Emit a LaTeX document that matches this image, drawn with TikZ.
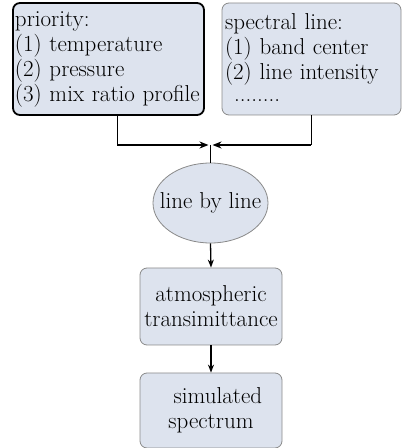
\documentclass[tikz,border=0pt]{standalone}
\usepackage{fontspec}
\usetikzlibrary{shapes.geometric,arrows.meta}
\definecolor{boxfill}{HTML}{DDE3EE}
\definecolor{edgegray}{HTML}{8A8A8A}
\begin{document}
\begin{tikzpicture}[x=1pt,y=1pt,
  every node/.style={font=\fontsize{23}{25}\selectfont},
  infobox/.style={draw=edgegray,fill=boxfill,rounded corners=7pt,line width=0.8pt,inner sep=2pt},
  keybox/.style={infobox,draw=black,line width=1.8pt},
  procbox/.style={infobox,minimum width=142pt,align=center},
  lblellipse/.style={draw=edgegray,fill=boxfill,ellipse,line width=0.8pt,minimum width=115pt,minimum height=80pt,inner sep=0pt},
  thin link/.style={line width=0.8pt},
  thick link/.style={line width=2pt,-{Stealth[length=9pt,width=7pt]}},
  flow/.style={line width=1.3pt,-{Stealth[length=8pt,width=6pt]}}]
\useasboundingbox (0,0) rectangle (402,448);
% input boxes
\node[keybox,minimum width=191pt,minimum height=112pt,text width=187pt,align=left] (prio) at (108.5,389)
  {priority:\\(1) temperature\\(2) pressure\\(3) mix ratio profile};
\node[infobox,minimum width=179pt,minimum height=112pt,text width=173pt,align=left] (spec) at (311.5,389)
  {spectral line:\\(1) band center\\(2) line intensity\\\hspace*{0.4em}\raisebox{0.3ex}{........}};
% merge point
\coordinate (join) at (210.5,303);
\coordinate (pl) at (117,303);
\coordinate (sl) at (311,303);
% processing chain
\node[lblellipse,label={center:line by line}] (lbl) at (210.5,245) {};
\node[procbox,minimum height=77pt] (atm) at (211,141.5) {atmospheric\\transimittance};
\node[procbox,minimum height=75pt] (sim) at (211,37.5) {\hspace*{0.6em}simulated\\spectrum};
% connectors
\draw[thin link] (prio.south -| pl) -- (pl);
\draw[thin link] (spec.south -| sl) -- (sl);
\draw[thick link] (pl) -- ([xshift=-2pt]join);
\draw[thick link] (sl) -- ([xshift=2pt]join);
\draw[line width=1.6pt] (join) -- (lbl.north);
\draw[flow] (lbl.south) -- (atm.north);
\draw[flow] (atm.south) -- (sim.north);
\end{tikzpicture}
\end{document}
